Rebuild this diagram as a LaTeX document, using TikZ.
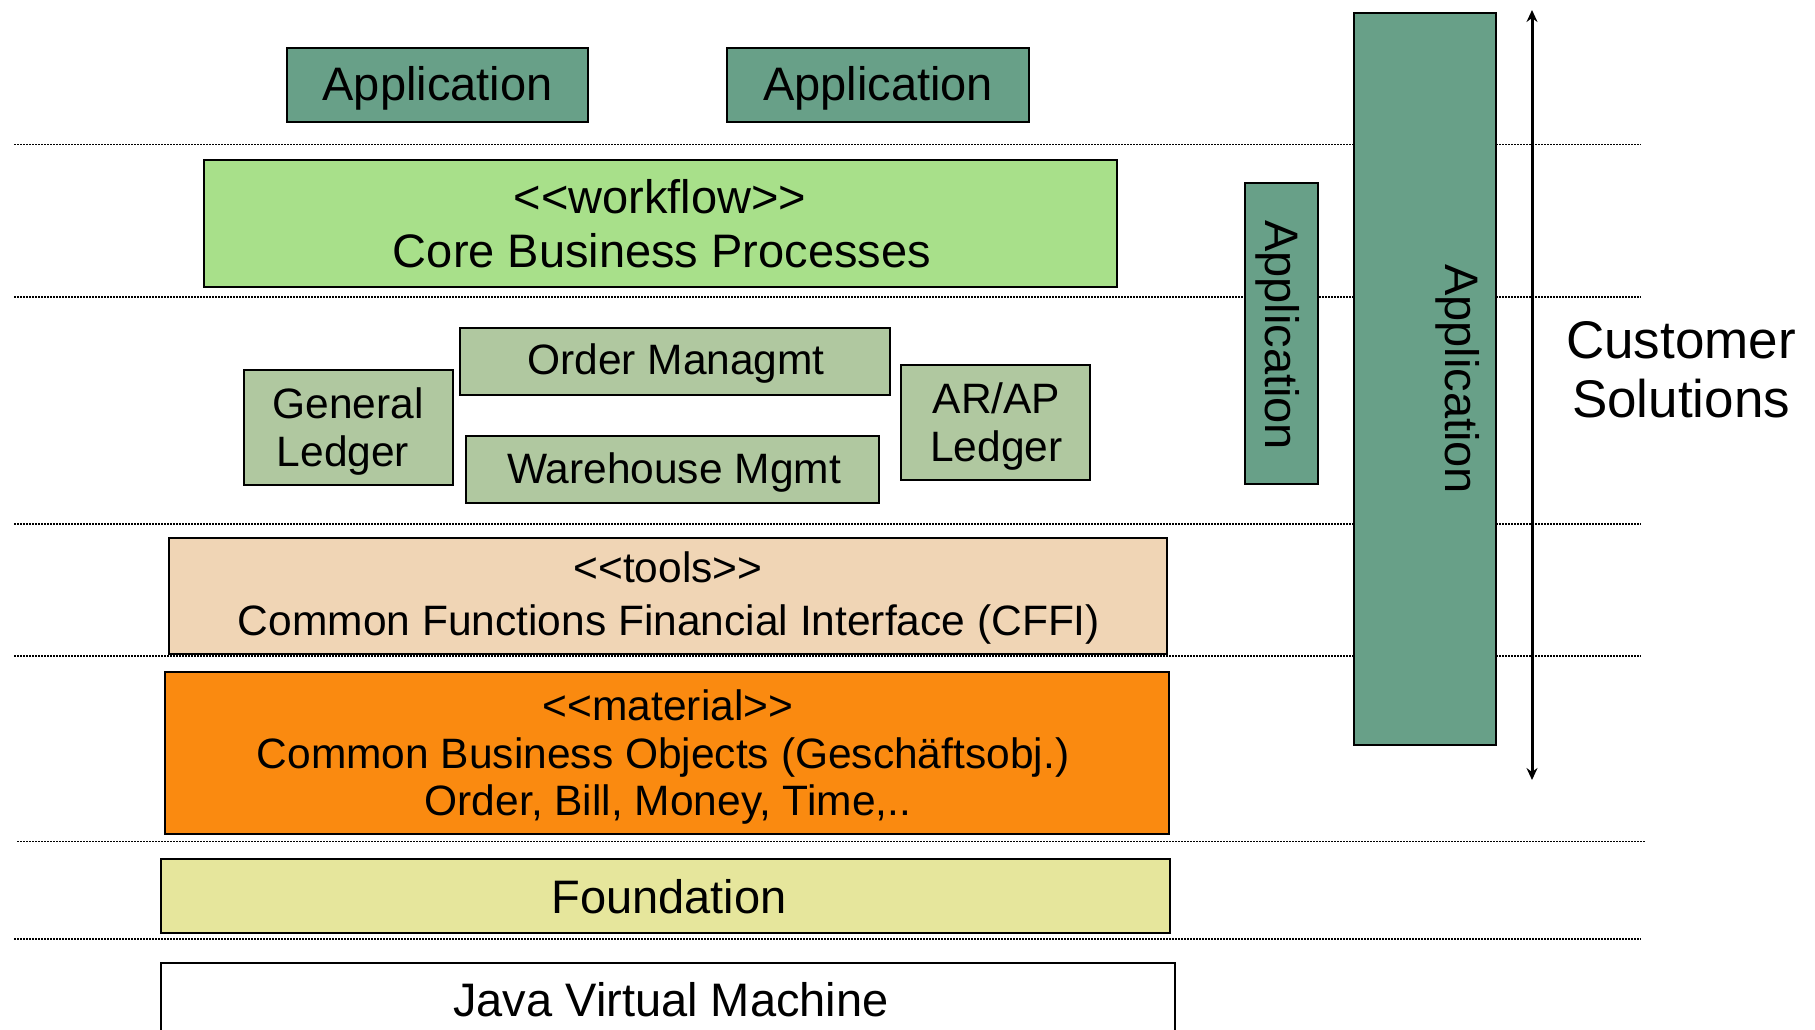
\documentclass[tikz,border=0pt]{standalone}
\usepackage{fontspec}
\setmainfont{Liberation Sans}
\usetikzlibrary{arrows.meta}
\definecolor{appgreen}{RGB}{104,160,136}
\definecolor{wfgreen}{RGB}{168,224,138}
\definecolor{ledgergreen}{RGB}{176,200,160}
\definecolor{toolsbeige}{RGB}{240,213,181}
\definecolor{matorange}{RGB}{250,138,16}
\definecolor{foundyellow}{RGB}{230,230,156}
\begin{document}
\begin{tikzpicture}[x=1pt,y=-1pt,
  box/.style={draw=black, line width=2pt, inner sep=0pt, rectangle},
  layerline/.style={line width=1.8pt, dash pattern=on 1.6pt off 1.4pt},
  bigtxt/.style={font=\fontsize{47}{47}\selectfont, inner sep=0pt, anchor=base},
  midtxt/.style={font=\fontsize{42.5}{42.5}\selectfont, inner sep=0pt, anchor=base},
  hugetxt/.style={font=\fontsize{53}{53}\selectfont, inner sep=0pt, anchor=base},
]
\useasboundingbox (0,0) rectangle (1815,1030);
% layer separators
\foreach \yy in {144.5,297,524.3,655.7,939} {\draw[layerline] (14,\yy) -- (1641,\yy);}
\draw[layerline] (17,841.5) -- (1645,841.5);

% boxes
\node[box, fill=appgreen, minimum width=301pt, minimum height=74pt] (app1) at (437.5,85) {};
\node[box, fill=appgreen, minimum width=302pt, minimum height=74pt] (app2) at (878,85) {};
\node[box, fill=wfgreen, minimum width=913pt, minimum height=127pt] (wf) at (660.5,223.5) {};
\node[box, fill=ledgergreen, minimum width=209pt, minimum height=115pt] (gl) at (348.5,427.5) {};
\node[box, fill=ledgergreen, minimum width=430pt, minimum height=67pt] (order) at (675,361.5) {};
\node[box, fill=ledgergreen, minimum width=413pt, minimum height=67pt] (wh) at (672.5,469.5) {};
\node[box, fill=ledgergreen, minimum width=189pt, minimum height=115pt] (arap) at (995,422.5) {};
\node[box, fill=toolsbeige, minimum width=998pt, minimum height=116pt] (tools) at (668,596) {};
\node[box, fill=matorange, minimum width=1004pt, minimum height=162pt] (mat) at (667,753) {};
\node[box, fill=foundyellow, minimum width=1009pt, minimum height=74pt] (found) at (665.5,896) {};
\node[box, fill=white, minimum width=1014pt, minimum height=77pt] (jvm) at (668,1001.5) {};
\node[box, fill=appgreen, minimum width=73pt, minimum height=301pt] (sapp) at (1281.5,333.5) {};
\node[box, fill=appgreen, minimum width=142pt, minimum height=732pt] (tapp) at (1425,379) {};

% texts
\node[bigtxt] (tapp1) at (437.5,101) {Application};
\node[bigtxt] (tapp2) at (878,101) {Application};
\node[bigtxt] (twf1) at (660,213) {<{}<workflow>{}>};
\node[bigtxt] (twf2) at (662,267) {Core Business Processes};
\node[midtxt] (tgl1) at (348,418) {General};
\node[midtxt] (tgl2) at (343,466) {Ledger};
\node[midtxt] (torder) at (676,374) {Order Managmt};
\node[midtxt] (twh) at (674,483) {Warehouse Mgmt};
\node[midtxt] (tarap1) at (996.5,413) {AR/AP};
\node[midtxt] (tarap2) at (996.5,461) {Ledger};
\node[midtxt] (ttools1) at (668,582) {<{}<tools>{}>};
\node[midtxt] (ttools2) at (669,635) {Common Functions Financial Interface (CFFI)};
\node[midtxt] (tmat1) at (668,720) {<{}<material>{}>};
\node[midtxt] (tmat2) at (663,768) {Common Business Objects (Geschäftsobj.)};
\node[midtxt] (tmat3) at (668,815) {Order, Bill, Money, Time,..};
\node[bigtxt] (tfound) at (669,913) {Foundation};
\node[bigtxt] (tjvm) at (671,1016) {Java Virtual Machine};
\node[bigtxt, rotate=-90] (tsapp) at (1265,335) {Application};
\node[bigtxt, rotate=-90] (ttapp) at (1445,379) {Application};
\node[hugetxt] (tcust1) at (1681,358) {Customer};
\node[hugetxt] (tcust2) at (1681,417) {Solutions};

% scope arrow
\coordinate (atop) at (1532,10);
\coordinate (abot) at (1532,780);
\draw[line width=3pt, {Stealth[length=12pt,width=11pt,inset=4pt]}-{Stealth[length=12pt,width=11pt,inset=4pt]}] (atop) -- (abot);
\end{tikzpicture}
\end{document}
